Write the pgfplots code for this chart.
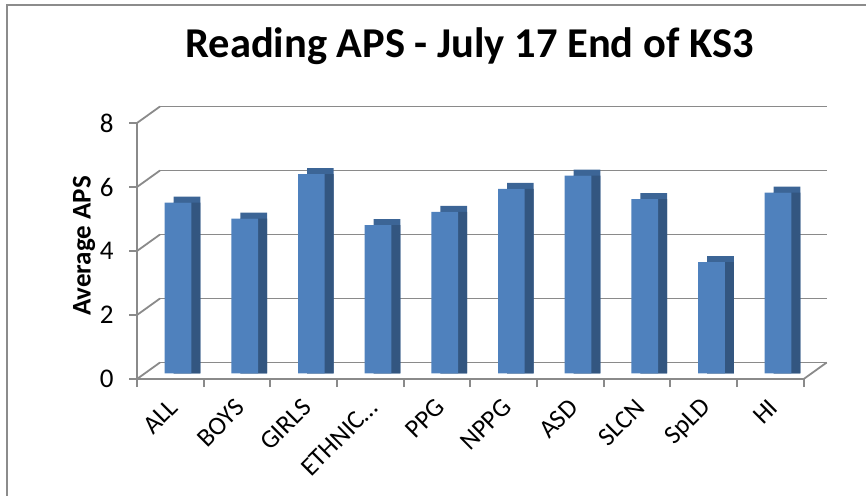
\documentclass[border=0pt]{standalone}
\usepackage{pgfplots}
\pgfplotsset{compat=1.18}
\usepackage{pgfplotstable}
\usepackage{fontspec}
\setmainfont{Carlito}
\definecolor{frontblue}{HTML}{4F81BD}
\definecolor{sideblue}{HTML}{335680}
\definecolor{topblue}{HTML}{3C6596}
\definecolor{gridgray}{HTML}{8A8A8A}
\definecolor{bordergray}{HTML}{8C8C8C}
\pgfplotstableread{
x v
0.5 5.34
1.5 4.84
2.5 6.23
3.5 4.64
4.5 5.05
5.5 5.77
6.5 6.18
7.5 5.45
8.5 3.48
9.5 5.65
}\data
\begin{document}
\begin{tikzpicture}[x=1pt,y=1pt]
\path[use as bounding box] (0,0) rectangle (866,495);
\draw[bordergray, line width=2pt] (7,-2) -- (7,490) -- (868,490);
\node[anchor=base, font=\bfseries\fontsize{42.5}{44}\selectfont] at (469.5,437) {Reading APS - July 17 End of KS3};
\node[rotate=90, font=\bfseries\fontsize{27}{29}\selectfont] at (84,249) {Average APS};
% back wall
\begin{axis}[at={(160pt,132.5pt)}, anchor=south west, scale only axis,
  width=666.7pt, height=256pt, xmin=0, xmax=10, ymin=0, ymax=8,
  axis line style={draw=none}, xtick=\empty, ytick={0,2,4,6,8}, yticklabels=\empty,
  major tick length=0pt, ymajorgrids, grid style={line width=1.8pt, gridgray}]
\addplot[draw=none] coordinates {(0,0)};
\end{axis}
% front axes
\begin{axis}[at={(137pt,116pt)}, anchor=south west, scale only axis,
  width=666.7pt, height=256pt, xmin=0, xmax=10, ymin=0, ymax=8, clip=false,
  axis x line*=bottom, axis y line*=left,
  axis line style={gridgray, line width=1.8pt, -},
  every tick/.style={gridgray, line width=1.8pt},
  tick align=outside, major tick length=8pt,
  ytick={0,2,4,6,8},
  xtick={0,1,2,3,4,5,6,7,8,9},
  xticklabels={ALL,BOYS,GIRLS,{ETHNIC\ldots},PPG,NPPG,ASD,SLCN,SpLD,HI},
  extra x ticks={10}, extra x tick labels={},
  /pgf/number format/assume math mode=true,
  yticklabel style={font=\fontsize{27}{29}\selectfont, xshift=-12pt},
  xticklabel style={font=\fontsize{26}{28}\selectfont, xshift=39pt, yshift=-14pt, rotate=45, anchor=east}]
\addplot[gridgray, line width=1.8pt] coordinates {(0,0) (0.345,0.516)};
\addplot[gridgray, line width=1.8pt] coordinates {(0,2) (0.345,2.516)};
\addplot[gridgray, line width=1.8pt] coordinates {(0,4) (0.345,4.516)};
\addplot[gridgray, line width=1.8pt] coordinates {(0,6) (0.345,6.516)};
\addplot[gridgray, line width=1.8pt] coordinates {(0,8) (0.345,8.516)};
\addplot[gridgray, line width=1.8pt] coordinates {(10,0) (10.345,0.516)};
\end{axis}
% bars
\begin{axis}[at={(144.7pt,121.5pt)}, anchor=south west, scale only axis,
  width=666.7pt, height=256pt, xmin=0, xmax=10, ymin=0, ymax=8, clip=false,
  hide axis]
\addplot[ybar, bar width=26.7pt, bar shift=9pt, fill=topblue, draw=none] table[x=x, y expr=\thisrow{v}+0.1875] {\data};
\addplot[ybar, bar width=26.7pt, bar shift=9pt, fill=sideblue, draw=none] table[x=x, y=v] {\data};
\addplot[ybar, bar width=26.7pt, bar shift=0pt, fill=frontblue, draw=none] table[x=x, y=v] {\data};
\end{axis}
\end{tikzpicture}
\end{document}
